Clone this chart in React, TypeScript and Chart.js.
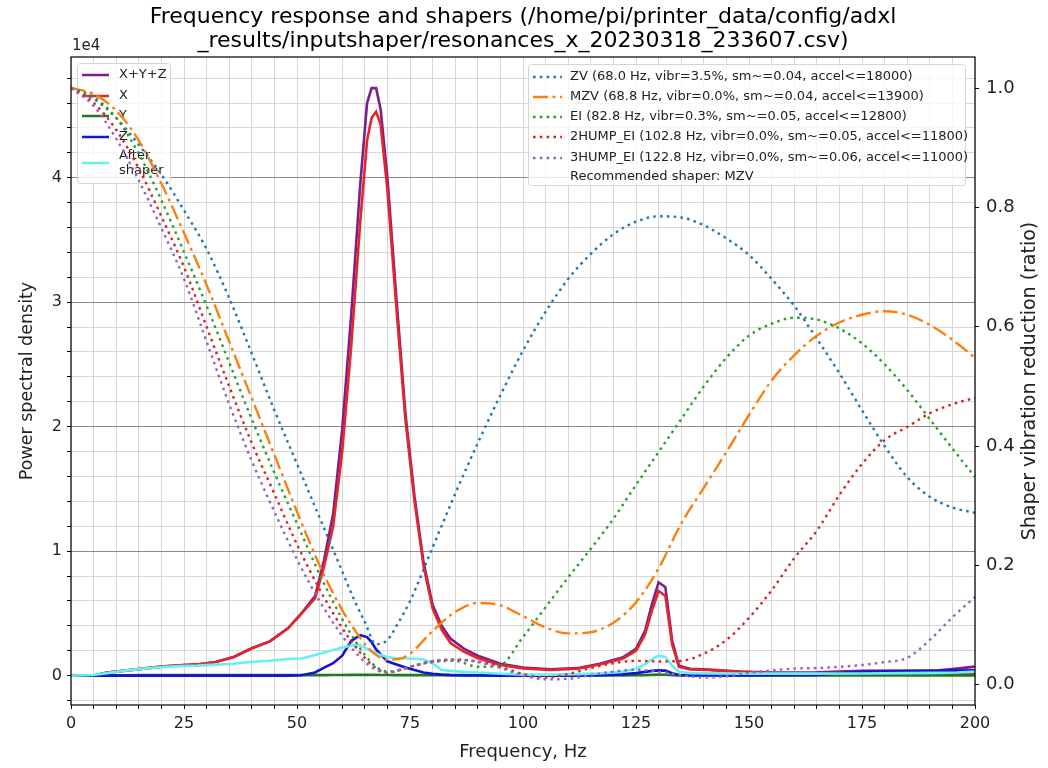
import React, { useEffect, useRef } from 'react';
import { Chart, registerables } from 'chart.js';

Chart.register(...registerables);

const FONT = 'DejaVu Sans';

const titleLines = [
  'Frequency response and shapers (/home/pi/printer_data/config/adxl',
  '_results/inputshaper/resonances_x_20230318_233607.csv)',
];
const xAxisTitle = 'Frequency, Hz';
const yAxisTitle = 'Power spectral density';
const y2AxisTitle = 'Shaper vibration reduction (ratio)';
const yExponentLabel = '1e4';
const xLabelEvery = 25;
const yLabelScale = 10000;
const yMinorStep = 2000;
const y2Ticks = [0, 0.2, 0.4, 0.6, 0.8, 1.0];

// PSD frequency grid (Hz)
const psdFreqs = [0, 5, 8, 12, 16, 20, 24, 28, 32, 36, 40, 44, 48, 51, 54, 56, 58, 60, 62, 64, 65.5, 66.5, 67.5, 68.5, 70, 72, 74, 76, 78, 80, 82, 84, 87, 90, 95, 100, 106, 112, 117, 122, 125, 127, 128.5, 130, 131.5, 133, 134.5, 137, 141, 148, 155, 165, 175, 185, 192, 196, 200];

const psdXYZ = [0, 0, 240, 400, 560, 720, 830, 900, 1100, 1500, 2200, 2750, 3800, 5000, 6400,
  9300, 13000, 19800, 29000, 39500,
  46000, 47200, 47200, 45500, 40000,
  30300, 21000, 14400, 9100, 5700,
  4000, 2950, 2150, 1600, 950,
  650, 500, 600, 950, 1450,
  2150, 3600, 5700, 7500, 7100,
  2800, 800, 550, 480, 320,
  250, 260, 380, 400, 420,
  560, 720];

const psdX = [0, 0, 240, 400, 560, 720, 830, 900, 1100, 1500, 2200, 2750, 3800, 5000, 6200,
  8800, 12000, 18000, 26500, 36500,
  43000, 44800, 45300, 44300, 39000,
  29500, 20500, 14000, 8800, 5400,
  3700, 2600, 1900, 1400, 850,
  580, 450, 560, 900, 1350,
  2000, 3300, 5200, 6800, 6400,
  2500, 700, 500, 450, 300,
  200, 150, 150, 150, 150,
  180, 200];

const psdY = [0, 0, 20, 30, 40, 40, 40, 40, 40, 40, 40, 40, 40, 40, 40,
  40, 50, 50, 60, 60,
  60, 60, 60, 50, 50,
  40, 40, 40, 40, 40,
  40, 40, 40, 30, 30,
  20, 20, 20, 20, 20,
  30, 40, 60, 80, 70,
  40, 20, 20, 20, 20,
  20, 20, 20, 20, 20,
  20, 20];

const psdZ = [0, 0, 0, 0, 0, 0, 0, 0, 0, 0, 0, 0, 0, 30, 250,
  650, 1000, 1600, 2800, 3250,
  3100, 2700, 2100, 1700, 1150,
  900, 650, 450, 250, 150,
  80, 40, 20, 10, 0,
  0, 0, 0, 30, 100,
  200, 300, 380, 420, 400,
  200, 50, 20, 20, 20,
  30, 60, 300, 340, 380,
  400, 420];

const psdAfterShaper = [0, 50, 200, 400, 560, 680, 760, 800, 880, 950, 1120, 1200, 1330, 1380, 1650,
  1850, 2050, 2250, 2420, 2450,
  2150, 1950, 1800, 1650, 1500,
  1400, 1380, 1350, 1300, 1000,
  450, 380, 300, 250, 150,
  80, 80, 120, 180, 320,
  550, 900, 1300, 1600, 1500,
  800, 300, 200, 180, 160,
  160, 160, 170, 200, 220,
  250, 320];

// Shaper response frequency grid (Hz)
const shaperFreqs = [0, 5, 10, 15, 20, 25, 30, 35, 40, 45, 50, 55, 60, 62.5, 65, 67.5, 70, 72.5, 75, 80, 85, 90, 95, 100, 105, 110, 115, 120, 125, 130, 135, 140, 145, 150, 155, 160, 165, 170, 175, 180, 185, 190, 195, 200];

const zvVals = [1.0, 0.982, 0.95, 0.905, 0.855, 0.795, 0.73, 0.648, 0.555, 0.46, 0.37, 0.28, 0.19,
  0.145, 0.105, 0.068, 0.075, 0.105, 0.14,
  0.23, 0.32, 0.405, 0.485, 0.56, 0.625, 0.68, 0.722, 0.755, 0.776, 0.785, 0.783, 0.77, 0.748, 0.72, 0.68, 0.635, 0.58, 0.522, 0.46, 0.4, 0.348, 0.315, 0.297, 0.288];

const mzvVals = [1.0, 0.99, 0.962, 0.912, 0.84, 0.757, 0.67, 0.575, 0.48, 0.385, 0.29, 0.2, 0.125,
  0.095, 0.068, 0.05, 0.042, 0.043, 0.052,
  0.09, 0.122, 0.137, 0.133, 0.115, 0.096, 0.086, 0.088, 0.104, 0.138, 0.195, 0.27, 0.33, 0.39, 0.452, 0.51, 0.552, 0.585, 0.607, 0.62, 0.626, 0.62, 0.603, 0.578, 0.548];

const eiVals = [1.0, 0.985, 0.95, 0.89, 0.812, 0.725, 0.635, 0.54, 0.445, 0.355, 0.27, 0.185, 0.11,
  0.078, 0.05, 0.03, 0.022, 0.024, 0.03,
  0.038, 0.04, 0.03, 0.033, 0.08, 0.13, 0.18, 0.228, 0.278, 0.335, 0.39, 0.445, 0.5, 0.548, 0.585, 0.605, 0.615, 0.612, 0.597, 0.572, 0.537, 0.494, 0.445, 0.396, 0.348];

const hump2Vals = [1.0, 0.975, 0.93, 0.865, 0.785, 0.7, 0.6, 0.5, 0.405, 0.32, 0.235, 0.16, 0.095,
  0.068, 0.045, 0.028, 0.02, 0.024, 0.03,
  0.039, 0.042, 0.039, 0.03, 0.018, 0.012, 0.018, 0.028, 0.036, 0.04, 0.039, 0.04, 0.052, 0.075, 0.112, 0.158, 0.212, 0.258, 0.318, 0.37, 0.41, 0.432, 0.455, 0.47, 0.481];

const hump3Vals = [1.0, 0.97, 0.915, 0.845, 0.765, 0.68, 0.575, 0.47, 0.375, 0.29, 0.21, 0.14, 0.082,
  0.058, 0.038, 0.025, 0.02, 0.025, 0.03,
  0.04, 0.042, 0.038, 0.028, 0.016, 0.009, 0.01, 0.016, 0.022, 0.025, 0.022, 0.016, 0.012, 0.014, 0.02, 0.024, 0.027, 0.028, 0.03, 0.033, 0.038, 0.045, 0.075, 0.113, 0.147];

const psdLabels = ['X+Y+Z', 'X', 'Y', 'Z', 'After\nshaper'];
const shaperLabels = [
  'ZV (68.0 Hz, vibr=3.5%, sm~=0.04, accel<=18000)',
  'MZV (68.8 Hz, vibr=0.0%, sm~=0.04, accel<=13900)',
  'EI (82.8 Hz, vibr=0.3%, sm~=0.05, accel<=12800)',
  '2HUMP_EI (102.8 Hz, vibr=0.0%, sm~=0.05, accel<=11800)',
  '3HUMP_EI (122.8 Hz, vibr=0.0%, sm~=0.06, accel<=11000)',
];
const recommendedText = 'Recommended shaper: MZV';

const psdColors = ['#7a1f8c', '#e3262a', '#1f7a1f', '#1414d2', '#66f0f0'];
const shaperColors = ['#1f77b4', '#ff7f0e', '#2ca02c', '#d62728', '#9467bd'];
const DOT = [2.6, 4.2];
const DASHDOT = [15, 4.5, 3, 4.5];
const shaperDashes = [DOT, DASHDOT, DOT, DOT, DOT];

const psdSeries = [psdXYZ, psdX, psdY, psdZ, psdAfterShaper];
const shaperSeries = [zvVals, mzvVals, eiVals, hump2Vals, hump3Vals];

function drawLeftLegend(ctx: CanvasRenderingContext2D) {
  ctx.save();
  ctx.fillStyle = 'rgba(255,255,255,0.8)';
  ctx.strokeStyle = 'rgba(204,204,204,0.8)';
  ctx.lineWidth = 1;
  ctx.beginPath();
  (ctx as any).roundRect(77.5, 63.5, 93, 120, 3);
  ctx.fill();
  ctx.stroke();
  const rows = [75, 96, 116, 137, 163];
  ctx.font = `13px "${FONT}"`;
  ctx.textBaseline = 'middle';
  psdLabels.forEach((lab, i) => {
    ctx.strokeStyle = psdColors[i];
    ctx.lineWidth = 2.5;
    ctx.setLineDash([]);
    ctx.beginPath();
    ctx.moveTo(82, rows[i]);
    ctx.lineTo(109, rows[i]);
    ctx.stroke();
    ctx.fillStyle = '#222';
    const parts = lab.split('\n');
    if (parts.length === 1) {
      ctx.fillText(lab, 119, rows[i]);
    } else {
      ctx.fillText(parts[0], 119, rows[i] - 7);
      ctx.fillText(parts[1], 119, rows[i] + 8);
    }
  });
  ctx.restore();
}

function drawRightLegend(ctx: CanvasRenderingContext2D) {
  ctx.save();
  ctx.fillStyle = 'rgba(255,255,255,0.8)';
  ctx.strokeStyle = 'rgba(204,204,204,0.8)';
  ctx.lineWidth = 1;
  ctx.beginPath();
  (ctx as any).roundRect(528.5, 64.5, 437, 121, 3);
  ctx.fill();
  ctx.stroke();
  const rows = [77, 97, 117, 137, 158, 177];
  ctx.font = `13px "${FONT}"`;
  ctx.textBaseline = 'middle';
  shaperLabels.forEach((lab, i) => {
    ctx.strokeStyle = shaperColors[i];
    ctx.lineWidth = 2.4;
    ctx.setLineDash(shaperDashes[i]);
    ctx.beginPath();
    ctx.moveTo(533, rows[i]);
    ctx.lineTo(562, rows[i]);
    ctx.stroke();
    ctx.fillStyle = '#222';
    ctx.fillText(lab, 570, rows[i]);
  });
  ctx.setLineDash([]);
  ctx.fillText(recommendedText, 570, rows[5]);
  ctx.restore();
}

const decoPlugin = {
  id: 'deco',
  beforeDatasetsDraw(chart: any) {
    drawLeftLegend(chart.ctx);
  },
  afterDatasetsDraw(chart: any) {
    drawRightLegend(chart.ctx);
  },
  afterDraw(chart: any) {
    const ctx: CanvasRenderingContext2D = chart.ctx;
    const a = chart.chartArea;
    ctx.save();
    ctx.strokeStyle = '#000';
    ctx.lineWidth = 1.2;
    ctx.setLineDash([]);
    ctx.strokeRect(a.left, a.top, a.right - a.left, a.bottom - a.top);
    ctx.fillStyle = '#000';
    ctx.textAlign = 'center';
    ctx.textBaseline = 'middle';
    ctx.font = `22px "${FONT}"`;
    const cx = (a.left + a.right) / 2;
    ctx.fillText(titleLines[0], cx, 17);
    ctx.fillText(titleLines[1], cx, 41);
    ctx.font = `15px "${FONT}"`;
    ctx.textAlign = 'left';
    ctx.fillStyle = '#222';
    ctx.fillText(yExponentLabel, a.left + 1, 46);
    ctx.translate(1030, (a.top + a.bottom) / 2);
    ctx.rotate(-Math.PI / 2);
    ctx.textAlign = 'center';
    ctx.font = `19px "${FONT}"`;
    ctx.fillText(y2AxisTitle, 0, 0);
    ctx.restore();
  },
};

export default function App() {
  const ref = useRef<HTMLCanvasElement | null>(null);
  useEffect(() => {
    if (!ref.current) return;
    Chart.defaults.font.family = FONT;
    const datasets: any[] = [];
    psdSeries.forEach((vals, i) => {
      datasets.push({
        label: psdLabels[i],
        data: psdFreqs.map((f, j) => ({ x: f, y: vals[j] })),
        yAxisID: 'y',
        borderColor: psdColors[i],
        borderWidth: 2.6,
        pointRadius: 0,
        tension: 0,
        fill: false,
        order: 10 - i,
      });
    });
    shaperSeries.forEach((vals, i) => {
      datasets.push({
        label: shaperLabels[i],
        data: shaperFreqs.map((f, j) => ({ x: f, y: vals[j] })),
        yAxisID: 'y2',
        borderColor: shaperColors[i],
        borderWidth: 2.4,
        borderDash: shaperDashes[i],
        borderCapStyle: 'butt',
        pointRadius: 0,
        cubicInterpolationMode: 'monotone',
        fill: false,
        order: 5 - i,
      });
    });
    const chart = new Chart(ref.current, {
      type: 'line',
      data: { datasets },
      options: {
        animation: false,
        responsive: false,
        layout: { padding: { top: 57, left: 0, right: 0, bottom: 0 } },
        plugins: { legend: { display: false }, tooltip: { enabled: false }, title: { display: false } },
        scales: {
          x: {
            type: 'linear',
            position: 'bottom',
            min: 0,
            max: 200,
            ticks: {
              stepSize: 5,
              autoSkip: false,
              maxRotation: 0,
              padding: 5,
              color: '#222',
              font: { size: 16, family: FONT },
              callback: (v: any) => (Math.round(v) % xLabelEvery === 0 ? String(Math.round(v)) : ''),
            },
            grid: { color: '#d6d6d6', lineWidth: 1, tickLength: 4, tickColor: '#000', drawTicks: true },
            border: { display: false },
            title: { display: true, text: xAxisTitle, color: '#222', font: { size: 18, family: FONT }, padding: { top: 0, bottom: 5 } },
            afterFit: (s: any) => { s.height = 63; },
          },
          y: {
            type: 'linear',
            position: 'left',
            min: -2360,
            max: 49700,
            afterBuildTicks: (s: any) => {
              const t: any[] = [];
              for (let v = -yMinorStep; v <= 48000; v += yMinorStep) t.push({ value: v });
              s.ticks = t;
            },
            ticks: {
              autoSkip: false,
              padding: 5,
              color: '#222',
              font: { size: 16, family: FONT },
              callback: (v: any) => (v % yLabelScale === 0 ? String(v / yLabelScale) : ''),
            },
            grid: {
              color: (c: any) => (c.tick && c.tick.value % yLabelScale === 0 ? '#8a8a8a' : '#d6d6d6'),
              lineWidth: 1,
              tickLength: 4,
              tickColor: '#000',
            },
            border: { display: false },
            title: { display: true, text: yAxisTitle, color: '#222', font: { size: 17.5, family: FONT }, padding: { top: 17, bottom: 0 } },
            afterFit: (s: any) => { s.width = 71; },
          },
          y2: {
            type: 'linear',
            position: 'right',
            min: -0.034,
            max: 1.052,
            afterBuildTicks: (s: any) => { s.ticks = y2Ticks.map((v) => ({ value: v })); },
            ticks: {
              autoSkip: false,
              padding: 7,
              color: '#222',
              font: { size: 18, family: FONT },
              callback: (v: any) => Number(v).toFixed(1),
            },
            grid: { drawOnChartArea: false, tickLength: 4, tickColor: '#000' },
            border: { display: false },
            afterFit: (s: any) => { s.width = 73; },
          },
        },
      },
      plugins: [decoPlugin],
    } as any);
    return () => chart.destroy();
  }, []);
  return (
    <div style={{ position: 'fixed', left: 0, top: 0, width: 1048, height: 768, background: '#fff' }}>
      <canvas ref={ref} width={1048} height={768} style={{ width: 1048, height: 768 }} />
    </div>
  );
}
